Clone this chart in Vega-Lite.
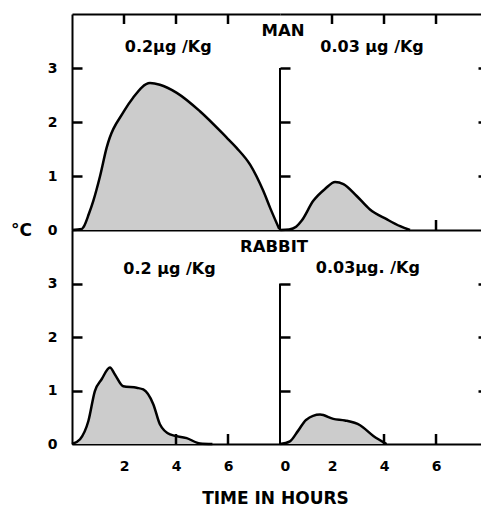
{
  "$schema": "https://vega.github.io/schema/vega-lite/v6.json",
  "background": "white",
  "padding": {"left": 10, "top": 12, "right": 0, "bottom": 0},
  "config": {
    "view": {"stroke": null},
    "axis": {"domainColor": "black", "domainWidth": 2, "labelFont": "DejaVu Sans", "labelFontWeight": "bold", "labelFontSize": 14, "labelColor": "black", "grid": false, "labelPadding": 14},
    "text": {"font": "DejaVu Sans", "fontWeight": "bold", "fontSize": 16, "color": "black", "align": "center", "baseline": "middle"},
    "rule": {"color": "black", "strokeWidth": 2.5}
  },
  "datasets": {
    "man02": [
      {"hours": 0, "temp": 0}, {"hours": 0.38, "temp": 0.02}, {"hours": 0.45, "temp": 0.06}, {"hours": 0.65, "temp": 0.3},
      {"hours": 0.82, "temp": 0.54}, {"hours": 1.08, "temp": 1.0}, {"hours": 1.33, "temp": 1.52}, {"hours": 2.0, "temp": 2.2},
      {"hours": 2.35, "temp": 2.45}, {"hours": 3.0, "temp": 2.72}, {"hours": 3.38, "temp": 2.69}, {"hours": 4.03, "temp": 2.54},
      {"hours": 4.92, "temp": 2.2}, {"hours": 5.95, "temp": 1.71}, {"hours": 6.33, "temp": 1.52}, {"hours": 6.85, "temp": 1.21},
      {"hours": 7.36, "temp": 0.72}, {"hours": 7.62, "temp": 0.41}, {"hours": 7.97, "temp": 0.02}
    ],
    "man003": [
      {"hours": 0, "temp": 0}, {"hours": 0.35, "temp": 0.01}, {"hours": 0.62, "temp": 0.06}, {"hours": 0.83, "temp": 0.17},
      {"hours": 1.28, "temp": 0.54}, {"hours": 1.73, "temp": 0.76}, {"hours": 2.12, "temp": 0.89}, {"hours": 2.44, "temp": 0.85},
      {"hours": 2.95, "temp": 0.63}, {"hours": 3.46, "temp": 0.38}, {"hours": 4.1, "temp": 0.2}, {"hours": 4.62, "temp": 0.07},
      {"hours": 5.0, "temp": 0}
    ],
    "rab02": [
      {"hours": 0, "temp": 0}, {"hours": 0.31, "temp": 0.09}, {"hours": 0.63, "temp": 0.43}, {"hours": 0.88, "temp": 0.99},
      {"hours": 1.14, "temp": 1.21}, {"hours": 1.46, "temp": 1.43}, {"hours": 1.65, "temp": 1.3}, {"hours": 1.97, "temp": 1.08},
      {"hours": 2.49, "temp": 1.05}, {"hours": 2.74, "temp": 1.02}, {"hours": 3.13, "temp": 0.74}, {"hours": 3.38, "temp": 0.37},
      {"hours": 3.77, "temp": 0.18}, {"hours": 4.41, "temp": 0.11}, {"hours": 4.93, "temp": 0.01}, {"hours": 5.4, "temp": 0}
    ],
    "rab003": [
      {"hours": 0, "temp": 0}, {"hours": 0.38, "temp": 0.05}, {"hours": 0.7, "temp": 0.25}, {"hours": 1.0, "temp": 0.45},
      {"hours": 1.54, "temp": 0.55}, {"hours": 2.05, "temp": 0.47}, {"hours": 2.5, "temp": 0.44}, {"hours": 3.08, "temp": 0.35},
      {"hours": 3.59, "temp": 0.15}, {"hours": 4.1, "temp": 0}
    ]
  },
  "columns": 2,
  "spacing": 0,
  "bounds": "flush",
  "concat": [
    {
      "width": 208, "height": 216,
      "layer": [
        {
          "data": {"name": "man02"},
          "mark": {"type": "area", "interpolate": "monotone", "color": "#cccccc", "fillOpacity": 1, "line": {"color": "black", "strokeWidth": 2.5}},
          "encoding": {
            "x": {"field": "hours", "type": "quantitative", "scale": {"domain": [0, 8], "nice": false, "zero": false},
                  "axis": {"orient": "top", "ticks": false, "labels": false, "title": null}},
            "y": {"field": "temp", "type": "quantitative", "scale": {"domain": [0, 4], "nice": false},
                  "axis": {"orient": "left", "values": [0, 1, 2, 3], "ticks": false, "labelPadding": 15,
                           "title": "°C", "titleAngle": 0, "titleX": -51, "titleY": 216, "titleAlign": "center", "titleBaseline": "middle",
                           "titleFont": "DejaVu Sans", "titleFontWeight": "bold", "titleFontSize": 17, "titleColor": "black"}}
          }
        },
        {
          "data": {"values": [{}]},
          "mark": {"type": "text", "text": "0.2μg /Kg"},
          "encoding": {
            "x": {"datum": 3.7, "type": "quantitative", "scale": {"domain": [0, 8], "nice": false, "zero": false},
                  "axis": {"orient": "bottom", "ticks": false, "labels": false, "title": null}},
            "y": {"datum": 3.39, "type": "quantitative", "scale": {"domain": [0, 4], "nice": false},
                  "axis": {"orient": "right", "offset": -208, "domain": false, "values": [1, 2, 3], "tickSize": 10, "tickColor": "black", "tickWidth": 2.5, "labels": false, "title": null}}
          }
        },
        {"data": {"values": [{}]}, "mark": {"type": "rule"},
         "encoding": {"x": {"datum": 2, "type": "quantitative", "axis": null}, "y": {"datum": 4, "type": "quantitative", "axis": null}, "y2": {"datum": 3.815}}},
        {"data": {"values": [{}]}, "mark": {"type": "rule"},
         "encoding": {"x": {"datum": 4, "type": "quantitative", "axis": null}, "y": {"datum": 4, "type": "quantitative", "axis": null}, "y2": {"datum": 3.815}}},
        {"data": {"values": [{}]}, "mark": {"type": "rule"},
         "encoding": {"x": {"datum": 6, "type": "quantitative", "axis": null}, "y": {"datum": 4, "type": "quantitative", "axis": null}, "y2": {"datum": 3.815}}}
      ],
      "resolve": {"axis": {"x": "independent", "y": "independent"}}
    },
    {
      "width": 201, "height": 216,
      "layer": [
        {
          "data": {"name": "man003"},
          "mark": {"type": "area", "interpolate": "monotone", "color": "#cccccc", "fillOpacity": 1, "line": {"color": "black", "strokeWidth": 2.5}},
          "encoding": {
            "x": {"field": "hours", "type": "quantitative", "scale": {"domain": [0, 7.73], "nice": false, "zero": false},
                  "axis": {"orient": "top", "ticks": false, "labels": false, "title": null}},
            "y": {"field": "temp", "type": "quantitative", "scale": {"domain": [0, 4], "nice": false},
                  "axis": {"orient": "right", "offset": -201, "domain": false, "values": [1, 2, 3], "tickSize": 10, "tickColor": "black", "tickWidth": 2.5, "labels": false, "title": null}}
          }
        },
        {
          "data": {"values": [{}]},
          "mark": {"type": "rule", "strokeWidth": 2},
          "encoding": {
            "x": {"datum": 0, "type": "quantitative", "scale": {"domain": [0, 7.73], "nice": false, "zero": false},
                  "axis": {"orient": "bottom", "ticks": false, "labels": false, "title": null}},
            "y": {"datum": 0, "type": "quantitative", "scale": {"domain": [0, 4], "nice": false},
                  "axis": {"orient": "left", "offset": -201, "domain": false, "values": [1, 2, 3], "tickSize": 3, "tickColor": "black", "tickWidth": 2.5, "labels": false, "title": null}},
            "y2": {"datum": 3}
          }
        },
        {
          "data": {"values": [{}]},
          "mark": {"type": "text", "text": "MAN", "fontSize": 16.5},
          "encoding": {
            "x": {"datum": 0.12, "type": "quantitative", "axis": null},
            "y": {"datum": 3.68, "type": "quantitative", "axis": null}
          }
        },
        {
          "data": {"values": [{}]},
          "mark": {"type": "text", "text": "0.03 μg /Kg"},
          "encoding": {
            "x": {"datum": 3.54, "type": "quantitative", "axis": null},
            "y": {"datum": 3.39, "type": "quantitative", "axis": null}
          }
        },
        {"data": {"values": [{}]}, "mark": {"type": "rule"},
         "encoding": {"x": {"datum": 2, "type": "quantitative", "axis": null}, "y": {"datum": 4, "type": "quantitative", "axis": null}, "y2": {"datum": 3.815}}},
        {"data": {"values": [{}]}, "mark": {"type": "rule"},
         "encoding": {"x": {"datum": 4, "type": "quantitative", "axis": null}, "y": {"datum": 4, "type": "quantitative", "axis": null}, "y2": {"datum": 3.815}}},
        {"data": {"values": [{}]}, "mark": {"type": "rule"},
         "encoding": {"x": {"datum": 6, "type": "quantitative", "axis": null}, "y": {"datum": 4, "type": "quantitative", "axis": null}, "y2": {"datum": 3.815}}},
        {"data": {"values": [{}]}, "mark": {"type": "rule"},
         "encoding": {"x": {"datum": 6, "type": "quantitative", "axis": null}, "y": {"datum": 0, "type": "quantitative", "axis": null}, "y2": {"datum": 0.185}}}
      ],
      "resolve": {"axis": {"x": "independent", "y": "independent"}}
    },
    {
      "width": 208, "height": 214,
      "layer": [
        {
          "data": {"name": "rab02"},
          "mark": {"type": "area", "interpolate": "monotone", "color": "#cccccc", "fillOpacity": 1, "line": {"color": "black", "strokeWidth": 2.5}},
          "encoding": {
            "x": {"field": "hours", "type": "quantitative", "scale": {"domain": [0, 8], "nice": false, "zero": false},
                  "axis": {"orient": "bottom", "values": [2, 4, 6], "ticks": false, "labelPadding": 15,
                           "title": "TIME IN HOURS", "titleX": 203, "titleY": 54, "titleAlign": "center", "titleBaseline": "middle",
                           "titleFont": "DejaVu Sans", "titleFontWeight": "bold", "titleFontSize": 17, "titleColor": "black"}},
            "y": {"field": "temp", "type": "quantitative", "scale": {"domain": [0, 4], "nice": false},
                  "axis": {"orient": "left", "values": [0, 1, 2, 3], "ticks": false, "labelPadding": 15, "title": null}}
          }
        },
        {
          "data": {"values": [{}]},
          "mark": {"type": "text", "text": "RABBIT", "fontSize": 16.5},
          "encoding": {
            "x": {"datum": 7.77, "type": "quantitative", "scale": {"domain": [0, 8], "nice": false, "zero": false}, "axis": null},
            "y": {"datum": 3.68, "type": "quantitative", "scale": {"domain": [0, 4], "nice": false},
                  "axis": {"orient": "right", "offset": -208, "domain": false, "values": [1, 2, 3], "tickSize": 10, "tickColor": "black", "tickWidth": 2.5, "labels": false, "title": null}}
          }
        },
        {
          "data": {"values": [{}]},
          "mark": {"type": "text", "text": "0.2 μg /Kg"},
          "encoding": {
            "x": {"datum": 3.75, "type": "quantitative", "axis": null},
            "y": {"datum": 3.27, "type": "quantitative", "axis": null}
          }
        },
        {"data": {"values": [{}]}, "mark": {"type": "rule"},
         "encoding": {"x": {"datum": 4, "type": "quantitative", "axis": null}, "y": {"datum": 0, "type": "quantitative", "axis": null}, "y2": {"datum": 0.187}}},
        {"data": {"values": [{}]}, "mark": {"type": "rule"},
         "encoding": {"x": {"datum": 6, "type": "quantitative", "axis": null}, "y": {"datum": 0, "type": "quantitative", "axis": null}, "y2": {"datum": 0.187}}}
      ],
      "resolve": {"axis": {"x": "independent", "y": "independent"}}
    },
    {
      "width": 201, "height": 214,
      "layer": [
        {
          "data": {"name": "rab003"},
          "mark": {"type": "area", "interpolate": "monotone", "color": "#cccccc", "fillOpacity": 1, "line": {"color": "black", "strokeWidth": 2.5}},
          "encoding": {
            "x": {"field": "hours", "type": "quantitative", "scale": {"domain": [0, 7.73], "nice": false, "zero": false},
                  "axis": {"orient": "bottom", "values": [0, 2, 4, 6], "ticks": false, "labelPadding": 15, "title": null}},
            "y": {"field": "temp", "type": "quantitative", "scale": {"domain": [0, 4], "nice": false},
                  "axis": {"orient": "right", "offset": -201, "domain": false, "values": [1, 2, 3], "tickSize": 10, "tickColor": "black", "tickWidth": 2.5, "labels": false, "title": null}}
          }
        },
        {
          "data": {"values": [{}]},
          "mark": {"type": "rule", "strokeWidth": 2},
          "encoding": {
            "x": {"datum": 0, "type": "quantitative", "scale": {"domain": [0, 7.73], "nice": false, "zero": false}, "axis": null},
            "y": {"datum": 0, "type": "quantitative", "scale": {"domain": [0, 4], "nice": false},
                  "axis": {"orient": "left", "offset": -201, "domain": false, "values": [1, 2, 3], "tickSize": 3, "tickColor": "black", "tickWidth": 2.5, "labels": false, "title": null}},
            "y2": {"datum": 3}
          }
        },
        {
          "data": {"values": [{}]},
          "mark": {"type": "text", "text": "0.03μg. /Kg"},
          "encoding": {
            "x": {"datum": 3.38, "type": "quantitative", "axis": null},
            "y": {"datum": 3.29, "type": "quantitative", "axis": null}
          }
        },
        {"data": {"values": [{}]}, "mark": {"type": "rule"},
         "encoding": {"x": {"datum": 4, "type": "quantitative", "axis": null}, "y": {"datum": 0, "type": "quantitative", "axis": null}, "y2": {"datum": 0.187}}},
        {"data": {"values": [{}]}, "mark": {"type": "rule"},
         "encoding": {"x": {"datum": 6, "type": "quantitative", "axis": null}, "y": {"datum": 0, "type": "quantitative", "axis": null}, "y2": {"datum": 0.187}}}
      ],
      "resolve": {"axis": {"x": "independent", "y": "independent"}}
    }
  ]
}
